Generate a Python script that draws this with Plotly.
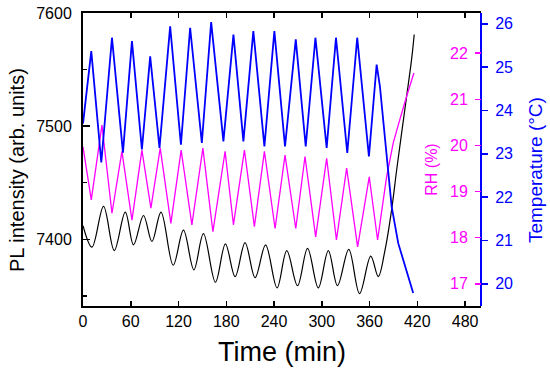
import plotly.graph_objects as go

# ---- data ----
pl_time = [0, 11.3, 25.8, 39.3, 53.1, 63.5, 76.0, 86.6, 98.0, 113.3, 126.2, 139.3, 151.3,
           166.4, 178.9, 191.1, 203.6, 216.2, 229.4, 243.8, 256.0, 269.5, 282.1, 295.6,
           308.2, 319.7, 333.9, 347.4, 361.5, 370.9, 379.3, 387.7, 394.0, 400.3, 406.5,
           412.8, 416.1]
pl_value = [7412, 7393, 7429, 7390, 7424, 7395, 7421, 7398, 7424, 7377, 7408, 7373, 7405,
            7362, 7396, 7367, 7397, 7366, 7395, 7357, 7390, 7359, 7392, 7357,
            7390, 7359, 7391, 7352, 7385, 7367, 7390, 7426, 7461, 7494, 7526,
            7559, 7581]

rh_time = [0, 10.4, 23.8, 36.4, 48.9, 61.5, 74.0, 85.3, 97.0, 110.4, 123.3, 136.8, 150.6,
           163.2, 178.5, 189.0, 202.8, 215.3, 227.9, 241.3, 253.8, 267.3, 278.9, 292.3,
           306.1, 318.4, 331.2, 345.0, 359.6, 370.1, 381.4, 389.7, 396.0, 400.3, 406.5,
           415.7]
rh_value = [19.97, 18.82, 20.44, 18.53, 19.87, 18.38, 19.90, 18.64, 19.94, 18.31, 19.90, 18.28,
            19.94, 18.13, 19.87, 18.28, 19.90, 18.24, 19.87, 18.20, 19.79, 18.20, 19.76, 18.02,
            19.72, 17.95, 19.51, 17.80, 19.32, 17.95, 19.32, 20.05, 20.44, 20.70, 21.06,
            21.57]

temp_time = [0, 10.4, 23.0, 36.4, 50.2, 61.5, 74.0, 84.4, 96.1, 109.5, 123.0, 134.6, 149.3,
             161.0, 176.4, 189.0, 201.5, 214.0, 227.9, 240.4, 253.8, 267.3, 279.8, 292.0,
             306.1, 317.8, 332.0, 344.5, 359.2, 368.9, 373.0, 381.4, 387.7, 396.0, 406.5,
             414.8]
temp_value = [23.7, 25.37, 22.80, 25.68, 23.03, 25.60, 23.10, 25.25, 23.14, 25.94, 23.21, 25.91,
              23.25, 26.04, 23.29, 25.75, 23.29, 25.83, 23.17, 25.83, 23.17, 25.64, 23.17,
              25.68, 23.14, 25.68, 23.02, 25.68, 22.94, 25.06, 24.56, 23.03, 21.79, 20.94,
              20.33, 19.79]

x_ticks = [0, 60, 120, 180, 240, 300, 360, 420, 480]

FONT = "Arial, Liberation Sans, sans-serif"
BLUE = "#0000ff"
MAGENTA = "#ff00ff"

fig = go.Figure()
fig.add_trace(go.Scatter(x=temp_time, y=temp_value, yaxis="y3", mode="lines",
                         line=dict(color=BLUE, width=1.8), showlegend=False))
fig.add_trace(go.Scatter(x=rh_time, y=rh_value, yaxis="y2", mode="lines",
                         line=dict(color=MAGENTA, width=1.3), showlegend=False))
fig.add_trace(go.Scatter(x=pl_time, y=pl_value, yaxis="y", mode="lines",
                         line=dict(color="black", width=1.2, shape="spline", smoothing=1),
                         showlegend=False))

fig.update_layout(
    template="none",
    width=550, height=372,
    margin=dict(l=83, r=69, t=13, b=66, autoexpand=False),
    paper_bgcolor="white", plot_bgcolor="white",
    font=dict(family=FONT, size=16, color="black"),
    xaxis=dict(domain=[0, 1], range=[0, 500], tickvals=x_ticks, ticks="inside", ticklen=5,
               tickwidth=1.5, tickcolor="black", showline=True, linecolor="black", linewidth=2,
               mirror="ticks", showgrid=False, zeroline=False, automargin=False,
               tickfont=dict(size=16, color="black")),
    yaxis=dict(range=[7341, 7600], tick0=7400, dtick=100, ticks="inside", ticklen=7,
               tickwidth=1.5, tickcolor="black", showline=True, linecolor="black", linewidth=2,
               showgrid=False, zeroline=False, ticklabelstandoff=6, automargin=False,
               minor=dict(dtick=50, ticks="inside", ticklen=4, tickwidth=1.5, tickcolor="black",
                          showgrid=False),
               tickfont=dict(size=16, color="black")),
    yaxis2=dict(overlaying="y", anchor="free", position=1, side="left",
                range=[16.52, 22.87], dtick=1, ticks="outside", ticklen=6, tickwidth=1.5,
                tickcolor=MAGENTA, showline=False, showgrid=False, zeroline=False,
                automargin=False, ticklabelstandoff=4, tickfont=dict(size=16, color=MAGENTA)),
    yaxis3=dict(overlaying="y", anchor="free", position=1, side="right",
                range=[19.49, 26.25], dtick=1, ticks="outside", ticklen=6, tickwidth=1.5,
                tickcolor=BLUE, showline=True, linecolor=BLUE, linewidth=2, showgrid=False,
                zeroline=False, automargin=False, ticklabelstandoff=4,
                tickfont=dict(size=16, color=BLUE)),
    annotations=[
        dict(text="PL intensity (arb. units)", xref="paper", yref="paper", x=-0.166, y=0.464,
             xanchor="center", yanchor="middle", textangle=-90, showarrow=False,
             font=dict(size=20, color="black", family=FONT)),
        dict(text="RH (%)", xref="paper", yref="paper", x=0.8736, y=0.464,
             xanchor="center", yanchor="middle", textangle=-90, showarrow=False,
             font=dict(size=16, color=MAGENTA, family=FONT)),
        dict(text="Temperature (°C)", xref="paper", yref="paper", x=1.1357, y=0.464,
             xanchor="center", yanchor="middle", textangle=-90, showarrow=False,
             font=dict(size=19, color=BLUE, family=FONT)),
        dict(text="Time (min)", xref="paper", yref="paper", x=0.5, y=-0.157,
             xanchor="center", yanchor="middle", showarrow=False,
             font=dict(size=27, color="black", family=FONT)),
    ],
)

fig.write_html("out.html",
               config={"displayModeBar": False, "staticPlot": True},
               post_script="document.body.style.margin='0';document.body.style.overflow='hidden';")
